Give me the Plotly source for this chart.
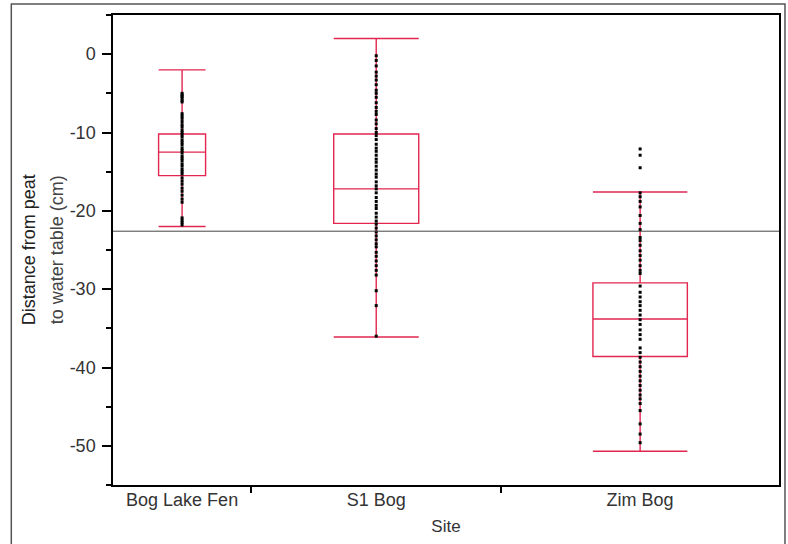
import plotly.graph_objects as go

# ---- data ----
sites = ["Bog Lake Fen", "S1 Bog", "Zim Bog"]
# relative widths of the site bins along the x axis (Origin-style variable bins)
site_bin_edges = [0.0, 1.0, 2.81, 4.82]

q1 = [-15.5, -21.6, -38.6]
median = [-12.5, -17.2, -33.8]
q3 = [-10.2, -10.2, -29.2]
lower_whisker = [-22.0, -36.1, -50.7]
upper_whisker = [-2.0, 2.0, -17.6]

water_table_line = -22.6

y_tick_vals = [0, -10, -20, -30, -40, -50]
y_tick_text = ["0", "-10", "-20", "-30", "-40", "-50"]

points_bog_lake_fen = [-5.0, -5.2, -5.4, -5.6, -5.9, -6.1, -7.6, -7.9, -8.2, -8.6, -9.0,
                       -9.3, -9.7, -10.0, -10.3, -10.6, -11.0, -11.3, -11.6, -12.0, -12.3,
                       -12.6, -13.0, -13.3, -13.6, -14.0, -14.3, -14.7, -15.0, -15.3, -15.8,
                       -16.2, -16.6, -17.1, -17.5, -18.0, -18.5, -18.9, -20.9, -21.2, -21.5,
                       -21.8]
points_s1_bog = [-0.2, -0.8, -1.5, -2.3, -2.8, -3.3, -3.9, -4.6, -5.0, -5.5, -6.2, -6.8,
                 -7.3, -7.7, -8.4, -8.9, -9.5, -10.0, -10.4, -10.9, -11.5, -12.0, -12.4,
                 -12.9, -13.4, -13.8, -14.3, -14.8, -15.3, -15.7, -16.3, -16.8, -17.2,
                 -17.7, -18.3, -18.8, -19.3, -19.7, -20.3, -20.8, -21.3, -21.7, -22.2,
                 -22.7, -23.2, -23.7, -24.2, -24.6, -25.3, -25.8, -26.4, -27.0, -27.6,
                 -28.2, -30.2, -32.1, -36.0]
points_zim_bog = [-12.1, -12.9, -14.5, -17.7, -18.2, -18.8, -19.5, -20.6, -21.6, -22.4,
                  -23.4, -23.8, -24.4, -25.1, -25.7, -26.3, -27.0, -27.6, -28.0, -29.6,
                  -30.4, -31.0, -31.6, -32.1, -32.7, -33.3, -33.9, -34.5, -35.2, -35.8,
                  -36.4, -37.5, -38.1, -38.7, -39.3, -39.9, -40.5, -41.1, -41.7, -42.3,
                  -42.9, -43.5, -44.0, -44.6, -45.5, -47.2, -48.5, -49.6]
points = [points_bog_lake_fen, points_s1_bog, points_zim_bog]

# ---- derived positions ----
centers = [(site_bin_edges[i] + site_bin_edges[i + 1]) / 2 for i in range(3)]
bin_w = [site_bin_edges[i + 1] - site_bin_edges[i] for i in range(3)]

RED = "#E2264F"
FONT = "Liberation Sans, Arial, sans-serif"

fig = go.Figure()
for i in range(3):
    fig.add_trace(go.Box(
        x=[centers[i]], q1=[q1[i]], median=[median[i]], q3=[q3[i]],
        lowerfence=[lower_whisker[i]], upperfence=[upper_whisker[i]],
        width=0.34 * bin_w[i], whiskerwidth=1,
        line=dict(color=RED, width=1.4), fillcolor="rgba(0,0,0,0)",
        boxpoints=False, showlegend=False, hoverinfo="skip",
    ))
for i in range(3):
    fig.add_trace(go.Scatter(
        x=[centers[i]] * len(points[i]), y=points[i], mode="markers",
        marker=dict(symbol="square", size=3, color="black", line=dict(width=0)),
        showlegend=False, hoverinfo="skip",
    ))

fig.add_shape(type="line", xref="paper", x0=0, x1=1, yref="y",
              y0=water_table_line, y1=water_table_line,
              line=dict(color="#444444", width=1))
# outer frame
fig.add_shape(type="rect", xref="paper", yref="paper", x0=-0.1527, x1=1.009,
              y0=-0.2, y1=1.0234, line=dict(color="#555555", width=1.5), layer="below")

fig.update_layout(
    width=788, height=544,
    margin=dict(l=113, r=7, t=15, b=59),
    paper_bgcolor="white", plot_bgcolor="white",
    font=dict(family=FONT, size=17, color="#333333"),
    xaxis=dict(
        range=[site_bin_edges[0], site_bin_edges[-1]],
        tickmode="array", tickvals=centers, ticktext=sites, ticks="",
        showline=True, linecolor="black", linewidth=2, mirror=True,
        showgrid=False, zeroline=False,
        minor=dict(tickmode="array", tickvals=site_bin_edges[1:-1], ticks="outside",
                   ticklen=6, tickwidth=1.5, tickcolor="black", showgrid=False),
        title=dict(text="Site", font=dict(size=17, color="#333333"), standoff=12),
        tickfont=dict(size=18, color="#333333"), ticklabelstandoff=-3,
    ),
    yaxis=dict(
        range=[-55, 5], tickmode="array", tickvals=y_tick_vals, ticktext=y_tick_text,
        ticks="outside", ticklen=9, tickwidth=1.5, tickcolor="black",
        showline=True, linecolor="black", linewidth=1.5, mirror=True,
        showgrid=False, zeroline=False,
        minor=dict(dtick=5, tick0=0, ticks="outside", ticklen=5, tickwidth=1.5,
                   tickcolor="black", showgrid=False),
        tickfont=dict(size=18, color="#333333"), ticklabelstandoff=3,
    ),
    annotations=[
        dict(text="Distance from peat", xref="paper", yref="paper", x=-0.1257, y=0.5,
             textangle=-90, showarrow=False, xanchor="center", yanchor="middle",
             font=dict(family=FONT, size=18, color="#222222")),
        dict(text="to water table (cm)", xref="paper", yref="paper", x=-0.0838, y=0.5,
             textangle=-90, showarrow=False, xanchor="center", yanchor="middle",
             font=dict(family=FONT, size=18, color="#444444")),
    ],
)

fig.write_html("out.html", config={"displayModeBar": False},
               post_script="document.body.style.margin='0px';document.body.style.overflow='hidden';")
